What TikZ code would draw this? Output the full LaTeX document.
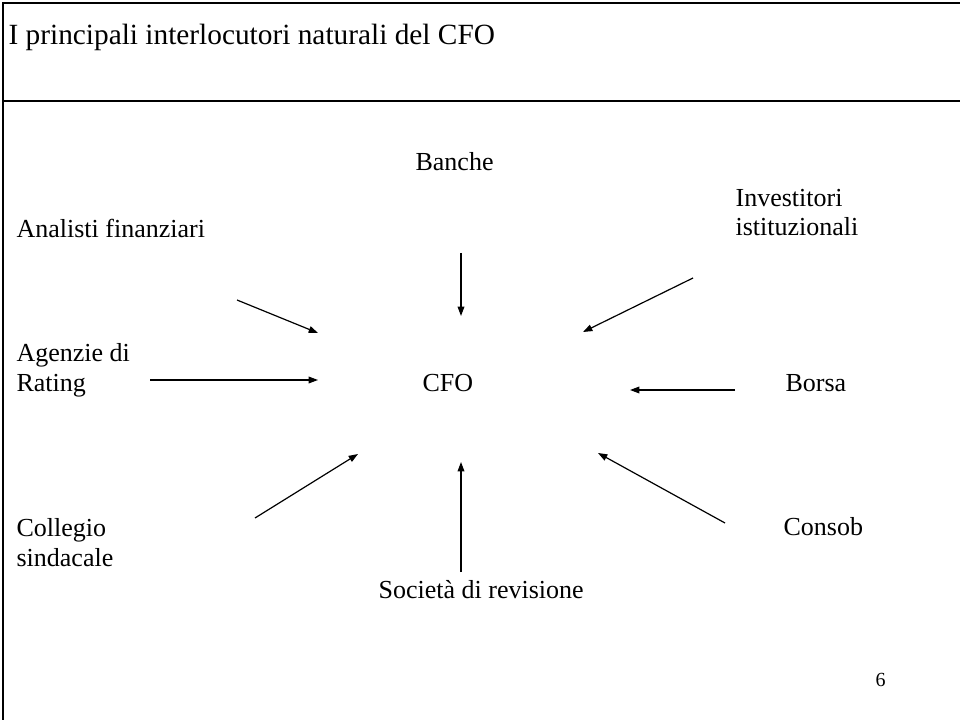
\documentclass[tikz,border=0pt]{standalone}
\usepackage{fontspec}
\setmainfont{Liberation Serif}
\newfontfamily\slidefont{Liberation Serif}
\usetikzlibrary{arrows.meta}

\begin{document}
\begin{tikzpicture}[x=0.75pt,y=-0.75pt,->,>={Triangle[length=7pt,width=5pt]},
      line width=0.9pt,
      party node/.style={anchor=base west,inner sep=0pt,align=left,
      font=\slidefont\fontsize{19.5}{22}\selectfont},
      title node/.style={anchor=base west,inner sep=0pt,
      font=\slidefont\fontsize{22}{26}\selectfont}]
      \useasboundingbox (0,0) rectangle (960,720);

      %% SLIDE FRAME
      \draw[-,line width=2pt] (960,3) -- (3,3) -- (3,720);
      \draw[-,line width=2pt] (3,101) -- (960,101);
      \node[title node] (title) at (8,45) {I principali interlocutori naturali del CFO};

      %% THESE ARE THE NODES (TWO-LINE ONES SIT ON THEIR LAST LINE)
      \node[party node] (cfo) at (422,391) {CFO};
      \node[party node] (banche) at (415,171) {Banche};
      \node[party node] (invest) at (735,236) {Investitori\\ istituzionali};
      \node[party node] (analisti) at (16,238) {Analisti finanziari};
      \node[party node] (rating) at (16,391) {Agenzie di\\Rating};
      \node[party node] (borsa) at (785,391) {Borsa};
      \node[party node] (collegio) at (16,566) {Collegio\\sindacale};
      \node[party node] (consob) at (783,535) {Consob};
      \node[party node] (revisione) at (378,598) {Società di revisione};
      \node[party node,font=\slidefont\fontsize{15}{18}\selectfont] (page) at (875,686) {6};

      %% ARROW ENDS
      \coordinate (analisti s) at (237,300);  \coordinate (analisti e) at (318,333);
      \coordinate (rating s) at (150,380);    \coordinate (rating e) at (318,380);
      \coordinate (banche s) at (461,253);    \coordinate (banche e) at (461,316);
      \coordinate (invest s) at (693,278);    \coordinate (invest e) at (583,332);
      \coordinate (borsa s) at (735,390);     \coordinate (borsa e) at (630,390);
      \coordinate (consob s) at (725,523);    \coordinate (consob e) at (598,453);
      \coordinate (revisione s) at (461,572); \coordinate (revisione e) at (461,462);
      \coordinate (collegio s) at (255,518);  \coordinate (collegio e) at (358,454);

      %% THESE ARE THE ARROWS
      \path (analisti s) edge (analisti e)
        (rating s) edge (rating e)
        (banche s) edge (banche e)
        (invest s) edge (invest e)
        (borsa s) edge (borsa e)
        (consob s) edge (consob e)
        (revisione s) edge (revisione e)
        (collegio s) edge (collegio e);
\end{tikzpicture}
\end{document}
